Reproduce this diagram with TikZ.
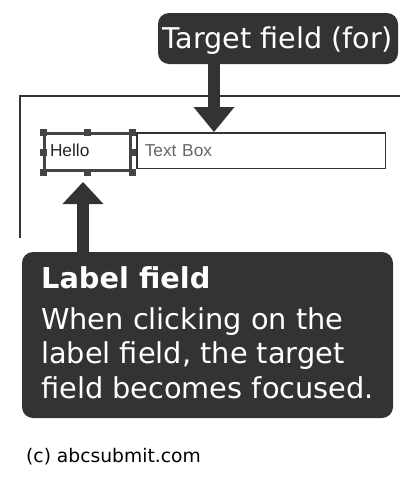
\documentclass[tikz,border=0pt]{standalone}
\usepackage{fontspec}
\setmainfont{DejaVu Sans}
\newfontfamily\arialf{Liberation Sans}
\usetikzlibrary{arrows.meta}
\definecolor{dark}{HTML}{333333}
\definecolor{selc}{HTML}{444444}
\definecolor{tbtext}{HTML}{666666}
\tikzset{
  callout/.style={fill=dark, rounded corners=11pt, inner sep=0pt, text=white},
  bigarrow/.style={draw=dark, line width=12pt, -{Triangle[length=#1, width=41pt, line width=0pt]}},
  selbox/.style={draw=selc, line width=3pt, inner ysep=0pt, inner xsep=5.5pt, align=left},
  handle/.style={fill=selc},
  tbox/.style={draw=dark, line width=1.5pt, inner ysep=0pt, inner xsep=8pt, align=left},
  frameline/.style={draw=dark, line width=1.3pt},
}
\begin{document}
\begin{tikzpicture}[x=1pt, y=-1pt]
\useasboundingbox (0,0) rectangle (417,482);
% frame
\draw[frameline] (20,238) -- (20,96) -- (400,96);
% text box
\node[tbox, minimum width=248.5pt, minimum height=35.5pt, text width=232.5pt,
      text height=12pt, text depth=0pt, text=tbtext, font=\arialf\fontsize{17.3}{20}\selectfont]
      (tb) at (261,150.5) {Text Box};
% hello label (selected)
\node[selbox, minimum width=86pt, minimum height=37pt, text width=75pt,
      text height=12pt, text depth=3pt, text=black!85, font=\arialf\fontsize{17.3}{20}\selectfont]
      (hello) at (87.5,152) {Hello};
\foreach \a in {north west, north, north east, west, east, south west, south, south east}
  \fill[handle] ([xshift=-3.5pt, yshift=-3.5pt]hello.\a) rectangle ([xshift=3.5pt, yshift=3.5pt]hello.\a);
% top callout
\node[callout, minimum width=240pt, minimum height=51pt, text height=22pt, text depth=3pt,
      font=\fontsize{28.6}{34}\selectfont] (tgt) at (278,38.5) {Target field (for)};
% bottom callout
\node[callout, minimum width=371pt, minimum height=166pt] (lbl) at (207.5,335) {};
\node[anchor=base west, inner sep=0pt, text=white, align=left,
      font=\fontsize{28.8}{34.5}\selectfont] (lbltext) at (41,398)
      {\textbf{Label field}\\[6.5pt]When clicking on the\\label field, the target\\field becomes focused.};
% arrows
\coordinate (a1) at (214,132);
\draw[bigarrow=25pt] (a1 |- tgt.south) -- (a1);
\coordinate (a2) at (83,182);
\draw[bigarrow=22pt] (a2 |- lbl.north) -- (a2);
% copyright
\node[anchor=base west, inner sep=0pt, font=\fontsize{18.7}{22}\selectfont] (copy) at (26,462) {(c) abcsubmit.com};
\end{tikzpicture}
\end{document}
